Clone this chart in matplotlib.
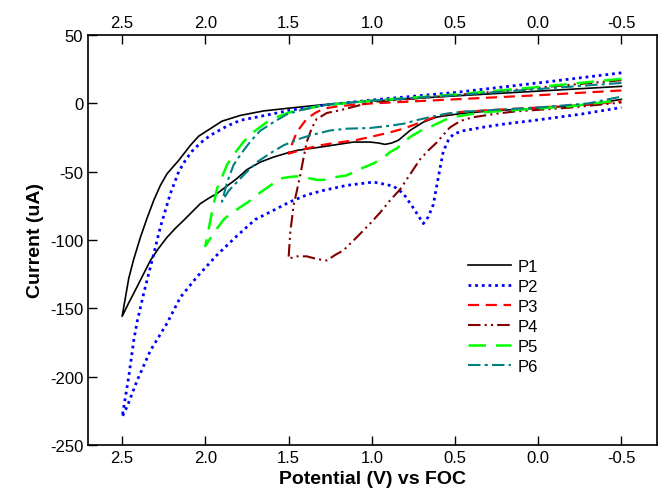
import matplotlib.pyplot as plt

plt.rcParams['font.family'] = ['Liberation Sans', 'DejaVu Sans']
plt.rcParams['axes.unicode_minus'] = False

# P1 - forward (upper) branch then reverse (lower) branch
p1_v = [-0.5, 0.0, 0.5, 1.0, 1.3, 1.5, 1.65, 1.79, 1.9, 1.97, 2.04, 2.09, 2.16, 2.23, 2.27, 2.31, 2.35, 2.39,
        2.43, 2.46, 2.48, 2.5,
        2.46, 2.43, 2.38, 2.33, 2.28, 2.23, 2.18, 2.13, 2.08, 2.03, 1.98, 1.93, 1.87, 1.81, 1.75, 1.67, 1.59,
        1.5, 1.45, 1.31, 1.11, 1.01, 0.96, 0.92, 0.88, 0.84, 0.77, 0.69, 0.61, 0.47, 0.3, 0.0, -0.3, -0.5]
p1_i = [12.5, 9, 5.5, 1.7, -1, -3.5, -5.5, -8.8, -13, -18.5, -24, -30.7, -41.7, -51.5, -60, -71, -84, -98,
        -114, -128, -142, -156,
        -146, -139, -127, -115, -106, -98, -91.5, -85.6, -79.5, -73.4, -69.5, -66, -60.5, -55, -48.5, -43, -39.3,
        -36, -34.4, -32, -28.3, -28.3, -29, -30, -29, -27, -19.8, -13.7, -10, -7.5, -5.6, -3.5, -1, 3]

p2_v = [-0.5, 0.0, 0.5, 1.0, 1.3, 1.49, 1.65, 1.79, 1.87, 1.97, 2.03, 2.08, 2.12, 2.16, 2.21, 2.27, 2.32, 2.37,
        2.41, 2.43, 2.46, 2.48, 2.5,
        2.47, 2.41, 2.33, 2.27, 2.23, 2.15, 2.05, 1.93, 1.81, 1.70, 1.61, 1.49, 1.39, 1.29, 1.15,
        0.99, 0.93, 0.87, 0.81, 0.75, 0.69, 0.66, 0.63, 0.60, 0.57, 0.54, 0.51, 0.45, 0.34, 0.2, 0.04, -0.26, -0.5]
p2_i = [22.4, 15, 8, 2.5, -1.5, -5, -9, -12.4, -16.6, -23.4, -29, -35, -41.7, -50, -66, -90.5, -115, -139,
        -160, -173.5, -200, -215, -229.6,
        -222, -203, -181, -169, -161, -142, -127, -111, -97, -85, -79.5, -72, -67, -63.7, -60,
        -57.6, -59, -60.6, -66, -76.6, -88, -83, -74, -54, -35, -27, -22.5, -20, -17.6, -15, -12.7, -7.8, -3]

p3_v = [-0.5, 0.0, 0.5, 1.0, 1.2, 1.29, 1.34, 1.39, 1.42, 1.45, 1.48, 1.5,
        1.45, 1.39, 1.31, 1.25, 1.1, 1.01, 0.9, 0.81, 0.72, 0.65, 0.55, 0.47, 0.3, 0.0, -0.3, -0.5]
p3_i = [9.5, 6, 3, 0, -2, -3.9, -7, -11.2, -16, -21, -30, -36.8,
        -35, -33, -30.7, -29.5, -27, -24.6, -21.5, -18.5, -14.5, -11.2, -7.8, -6.3, -5, -3, -1, 1.5]

p4_v = [-0.5, 0.0, 0.5, 1.0, 1.11, 1.19, 1.27, 1.31, 1.33, 1.36, 1.39, 1.41, 1.43, 1.45, 1.47, 1.49, 1.5,
        1.45, 1.39, 1.33, 1.27, 1.22, 1.17, 1.09, 1.01, 0.95, 0.89, 0.83, 0.77, 0.71, 0.66, 0.61, 0.57, 0.53,
        0.47, 0.40, 0.25, 0.14, -0.2, -0.5]
p4_i = [17, 11.5, 6, 1, -2.5, -5, -7, -10, -11.2, -18, -28, -40, -52.7, -64, -74.7, -95, -113.7,
        -112, -112, -114, -115, -111, -107.6, -98, -88, -80, -71, -63, -52, -41, -34.4, -28.7, -23, -17.6,
        -13, -10.3, -7.5, -5.9, -3, 0.7]

p5_v = [-0.5, 0.0, 0.5, 1.0, 1.3, 1.49, 1.56, 1.63, 1.7, 1.77, 1.82, 1.87, 1.9, 1.93, 1.96, 1.98, 2.0,
        1.95, 1.89, 1.85, 1.79, 1.74, 1.69, 1.62, 1.55, 1.5, 1.45, 1.39, 1.33, 1.29, 1.22, 1.15, 1.07, 0.99,
        0.93, 0.89, 0.85, 0.77, 0.69, 0.65, 0.55, 0.51, 0.34, 0.1, -0.2, -0.5]
p5_i = [18, 12, 6.5, 2, -1.5, -6.4, -9.5, -13.7, -20, -28, -36, -45, -54, -62.5, -79.5, -92, -104.5,
        -95, -85, -81, -76, -72, -67, -61, -55, -54, -53.4, -54.5, -56, -56, -54, -52.7, -48, -44,
        -39.7, -35.6, -33, -24.6, -18.9, -17.3, -11.5, -10, -6.6, -4.5, -2, 2.5]

p6_v = [-0.5, 0.0, 0.5, 1.0, 1.25, 1.43, 1.51, 1.59, 1.67, 1.73, 1.78, 1.83, 1.87, 1.9,
        1.86, 1.81, 1.75, 1.69, 1.61, 1.53, 1.45, 1.37, 1.25, 1.15, 1.01, 0.9, 0.81, 0.72, 0.65, 0.55, 0.47,
        0.3, 0.0, -0.3, -0.5]
p6_i = [15, 10.5, 6, 2, -0.5, -5, -8, -13.7, -20, -28, -36, -45, -58, -72,
        -64, -57.6, -50, -43, -36.5, -30.7, -26.5, -23.4, -19.8, -18.5, -18, -16.5, -14.9, -12, -10, -7.5, -6.3,
        -5, -3, 0, 5]

labels = ['P1', 'P2', 'P3', 'P4', 'P5', 'P6']
x_ticks = [2.5, 2.0, 1.5, 1.0, 0.5, 0.0, -0.5]
y_ticks = [50, 0, -50, -100, -150, -200, -250]

fig = plt.figure(figsize=(6.58, 5.02), dpi=100)
ax = fig.add_axes([0.134, 0.112, 0.865, 0.816])

ax.plot(p1_v, p1_i, color='black', lw=1.2, ls='-', label=labels[0])
ax.plot(p2_v, p2_i, color='#0000ff', lw=2.0, ls=(0, (1, 1.4)), label=labels[1])
ax.plot(p3_v, p3_i, color='#ff0000', lw=1.6, ls=(0, (5, 3)), label=labels[2])
ax.plot(p4_v, p4_i, color='#800000', lw=1.5, ls=(0, (6, 2, 1, 2, 1, 2)), label=labels[3])
ax.plot(p5_v, p5_i, color='#00ff00', lw=1.8, ls=(0, (7, 4)), label=labels[4])
ax.plot(p6_v, p6_i, color='#008080', lw=1.5, ls=(0, (6, 2, 1.5, 2)), label=labels[5])

ax.set_xlim(2.704, -0.716)
ax.set_ylim(-250, 50)
ax.set_xticks(x_ticks)
ax.set_xticklabels(['%.1f' % v for v in x_ticks])
ax.set_yticks(y_ticks)

ax.tick_params(direction='in', length=6.5, width=1, labelsize=12, top=True, labeltop=True, right=False)
for s in ax.spines.values():
    s.set_linewidth(1.2)

ax.set_xlabel('Potential (V) vs FOC', fontsize=14, fontweight='bold')
ax.set_ylabel('Current (uA)', fontsize=14, fontweight='bold')

ax.legend(loc='upper left', bbox_to_anchor=(0.655, 0.47), frameon=False, fontsize=12,
          handlelength=2.6, handletextpad=0.4, labelspacing=0.3, borderaxespad=0)

fig.savefig('out.png', dpi=100)
